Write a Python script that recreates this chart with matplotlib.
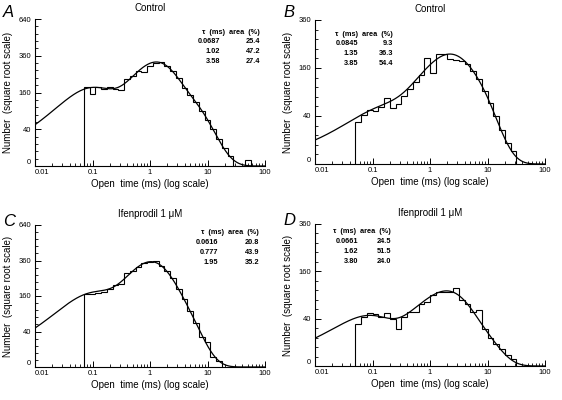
import numpy as np
import matplotlib.pyplot as plt
from matplotlib.ticker import FixedLocator, NullFormatter

plt.rcParams['font.family'] = ['Liberation Sans', 'DejaVu Sans']

# 数据: 开放时间直方图 (每十倍程10个bin) 与拟合参数
bins_per_decade = 10

titles = ['Control', 'Control', 'Ifenprodil 1 μM', 'Ifenprodil 1 μM']
letters = ['A', 'B', 'C', 'D']
ymax = [640, 360, 640, 360]

tau_a = [0.0687, 1.02, 3.58]
area_a = [25.4, 47.2, 27.4]
tau_b = [0.0845, 1.35, 3.85]
area_b = [9.3, 36.3, 54.4]
tau_c = [0.0616, 0.777, 1.95]
area_c = [20.8, 43.9, 35.2]
tau_d = [0.0661, 1.62, 3.80]
area_d = [24.5, 51.5, 24.0]

tau_text_a = ['0.0687', '1.02', '3.58']
tau_text_b = ['0.0845', '1.35', '3.85']
tau_text_c = ['0.0616', '0.777', '1.95']
tau_text_d = ['0.0661', '1.62', '3.80']

# log10 of first bin edge
first_edge = [-1.15, -1.3, -1.15, -1.3]

counts_a = [186, 154, 183, 174, 186, 176, 171, 223, 240, 267, 263, 298, 312, 322,
            298, 270, 228, 182, 150, 122, 88, 62, 40, 21, 10, 3, 0, 0, 1]
counts_b = [30, 42, 50, 49, 57, 75, 54, 62, 80, 98, 118, 138, 194, 145, 209, 209,
            190, 188, 185, 172, 150, 124, 93, 64, 40, 20, 8, 3]
counts_c = [170, 170, 176, 180, 193, 214, 218, 278, 292, 315, 342, 348, 355, 325,
            290, 250, 195, 145, 100, 62, 28, 20, 3, 1]
counts_d = [32, 42, 50, 48, 42, 50, 40, 24, 42, 52, 52, 68, 72, 90, 98, 99, 99,
            109, 77, 68, 52, 55, 24, 14, 9, 5, 2, 1]

# 拟合曲线的高度比例 (每bin事件数)
fit_scale = [1350, 720, 1333, 388]

taus = [tau_a, tau_b, tau_c, tau_d]
areas = [area_a, area_b, area_c, area_d]
tau_texts = [tau_text_a, tau_text_b, tau_text_c, tau_text_d]
counts = [counts_a, counts_b, counts_c, counts_d]

# 画布布局 (像素 -> 比例)
W, H = 562, 400
boxes = [(35, 19, 166), (315, 20, 164), (35, 225, 367), (315, 224, 366)]
table_pos = [(220, 260, 32), (358, 393, 34), (218, 259, 233), (358, 391, 232)]
letter_pos = [(3, 17), (283, 17), (3, 226), (283, 225)]


def fit_curve(t, tau, area, scale):
    y = np.zeros_like(t)
    for tt, aa in zip(tau, area):
        y += aa / 100 * (t / tt) * np.exp(-t / tt)
    return y * scale


fig = plt.figure(figsize=(W / 100, H / 100), dpi=100)

for i in range(4):
    x0, ytop, ybot = boxes[i]
    ax = fig.add_axes([x0 / W, 1 - ybot / H, 230 / W, (ybot - ytop) / H])
    ax.set_xscale('log')
    ax.set_yscale('function', functions=(lambda v: np.sqrt(np.maximum(v, 0)), lambda v: v ** 2))

    edges = 10 ** (first_edge[i] + np.arange(len(counts[i]) + 1) / bins_per_decade)
    ax.stairs(counts[i], edges, baseline=0, color='k', lw=0.8)

    t = np.logspace(-2, 2, 500)
    ax.plot(t, fit_curve(t, taus[i], areas[i], fit_scale[i]), color='k', lw=0.9)

    ax.set_xlim(0.01, 100)
    ax.set_ylim(0, ymax[i])
    for s in ['top', 'right']:
        ax.spines[s].set_visible(False)
    for s in ['left', 'bottom']:
        ax.spines[s].set_linewidth(0.8)

    nmax = int(round(np.sqrt(ymax[i] / 40)))
    ax.yaxis.set_major_locator(FixedLocator([40 * n ** 2 for n in range(nmax + 1)]))
    ax.yaxis.set_minor_locator(FixedLocator([40 * (n + m / 5) ** 2 for n in range(nmax) for m in range(1, 5)]))
    ylabels = ax.set_yticklabels([str(40 * n ** 2) for n in range(nmax + 1)])
    ax.set_xticks([0.01, 0.1, 1, 10, 100])
    xlabels = ax.set_xticklabels(['0.01', '0.1', '1', '10', '100'])
    ylabels[0].set_va('bottom')
    xlabels[0].set_ha('left')
    ax.xaxis.set_minor_formatter(NullFormatter())
    ax.tick_params(which='major', direction='in', length=4, width=0.7, labelsize=5.5, pad=2)
    ax.tick_params(which='minor', direction='in', length=2.2, width=0.6)
    ax.tick_params(axis='y', pad=3)

    ax.set_xlabel('Open  time (ms) (log scale)', fontsize=7, labelpad=2)
    ax.set_ylabel('Number  (square root scale)', fontsize=7, labelpad=4)
    ax.set_title(titles[i], fontsize=7, pad=6)

    # 参数表
    xt, xa, yh = table_pos[i]
    fig.text(xa / W, 1 - yh / H, 'τ  (ms)  area  (%)', ha='right', va='center', fontsize=5.3, fontweight='bold')
    for r in range(3):
        yy = 1 - (yh + 9.7 * (r + 1)) / H
        fig.text(xt / W, yy, tau_texts[i][r], ha='right', va='center', fontsize=5.3, fontweight='bold')
        fig.text(xa / W, yy, '%.1f' % areas[i][r], ha='right', va='center', fontsize=5.3, fontweight='bold')

    lx, ly = letter_pos[i]
    fig.text(lx / W, 1 - ly / H, letters[i], fontsize=12, style='italic')

plt.savefig('out.png', dpi=100)
